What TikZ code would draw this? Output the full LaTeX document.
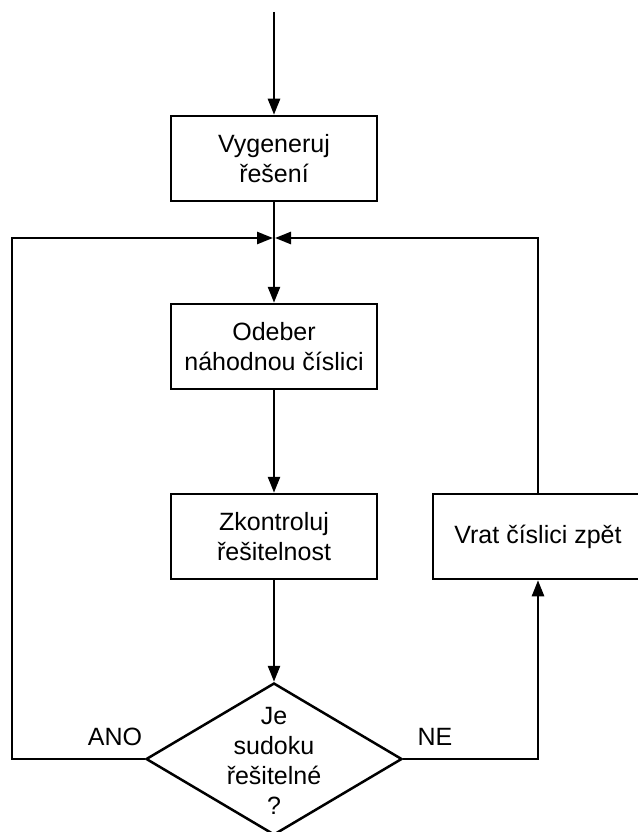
\documentclass[tikz,border=0pt]{standalone}
\usepackage{fontspec}
\setmainfont{Liberation Sans}
\usepackage{tikz}
\usetikzlibrary{shapes.geometric, arrows.meta, positioning}
\tikzset{
  box/.style={rectangle, draw=black, fill=white,
    minimum width=206pt, minimum height=85pt, align=center,
    inner sep=0pt, line width=2.5pt},
  decision/.style={diamond, draw=black, fill=white,
    minimum width=256pt, minimum height=152pt,
    inner sep=0pt, line width=2.5pt},
  arrow/.style={-{Triangle[length=16pt,width=12pt]}, line width=2.5pt, color=black},
  line/.style={line width=2.5pt, color=black}
}

\begin{document}
\begin{tikzpicture}[x=1pt, y=-1pt, every node/.style={font=\fontsize{25}{30}\selectfont}]
  \useasboundingbox (0,0) rectangle (637,832);

  % Main column
  \node[box] (gen) at (274,158.5) {Vygeneruj\\řešení};
  \node[box] (remove) at (274,346.5) {Odeber\\náhodnou číslici};
  \node[box] (verify) at (274,536.5) {Zkontroluj\\řešitelnost};
  \node[decision] (check) at (274,759) {};
  \node[align=center] (checktext) at (274,761) {Je\\sudoku\\řešitelné\\?};

  % Side box (cut off at the right edge)
  \node[box, minimum width=210pt] (restore) at (538,536.5) {};
  \node (restoretext) at (538,536.5) {Vrat číslici zpět};

  % Connectors
  \coordinate (start) at (274,12);
  \coordinate (join) at (274,238);
  \coordinate (anocorner) at (12,759);
  \draw[arrow] (start) -- (gen);
  \draw[line] (gen) -- (join);
  \draw[arrow] (join) -- (remove);
  \draw[arrow] (remove) -- (verify);
  \draw[arrow] (verify) -- (check);
  \draw[arrow, shorten >=1pt] (check.west) -- (anocorner) |- (join);
  \draw[arrow] (check.east) -| (restore.south);
  \draw[arrow, shorten >=1pt] (restore.north) |- (join);

  % Branch labels
  \node (ano) at (115,737) {ANO};
  \node (ne) at (435,737) {NE};
\end{tikzpicture}
\end{document}
